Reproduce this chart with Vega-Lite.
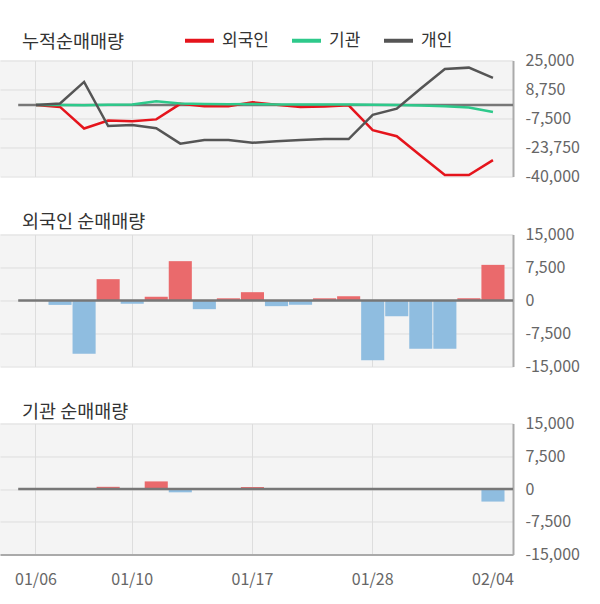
{
  "$schema": "https://vega.github.io/schema/vega-lite/v6.json",
  "background": "white",
  "padding": {"left": 0, "top": 23.5, "right": 0, "bottom": 10},
  "config": {
    "font": "Noto Sans CJK KR",
    "view": {"stroke": null, "fill": "#f4f4f4"},
    "axis": {"labelFont": "Noto Sans CJK KR", "labelFontSize": 16, "labelColor": "#666666", "gridColor": "#dddddd", "gridWidth": 1, "ticks": false, "title": null, "labelOverlap": false, "labelFlush": false},
    "title": {"font": "Noto Sans CJK KR", "fontSize": 18.5, "fontWeight": "normal", "color": "#333333", "anchor": "start", "frame": "group", "dx": 22}
  },
  "datasets": {
    "d": [
      {"date": "01/06", "f": 0, "i": 0, "외국인": 0, "기관": 0, "개인": 0},
      {"date": "01/07", "f": -1000, "i": 0, "외국인": -1000, "기관": 0, "개인": 900},
      {"date": "01/08", "f": -12100, "i": 0, "외국인": -13100, "기관": -100, "개인": 13000},
      {"date": "01/09", "f": 4850, "i": 500, "외국인": -8600, "기관": 200, "개인": -11700},
      {"date": "01/10", "f": -760, "i": 0, "외국인": -9000, "기관": 300, "개인": -11200},
      {"date": "01/13", "f": 850, "i": 1740, "외국인": -8000, "기관": 2100, "개인": -13000},
      {"date": "01/14", "f": 8940, "i": -760, "외국인": 700, "기관": 900, "개인": -21600},
      {"date": "01/15", "f": -1970, "i": 0, "외국인": -600, "기관": 600, "개인": -19600},
      {"date": "01/16", "f": 500, "i": 0, "외국인": -600, "기관": 500, "개인": -19600},
      {"date": "01/17", "f": 1890, "i": 450, "외국인": 1600, "기관": 600, "개인": -21100},
      {"date": "01/20", "f": -1290, "i": 0, "외국인": 200, "기관": 400, "개인": -20200},
      {"date": "01/21", "f": -980, "i": 0, "외국인": -1100, "기관": 300, "개인": -19600},
      {"date": "01/22", "f": 500, "i": 0, "외국인": -800, "기관": 300, "개인": -19000},
      {"date": "01/23", "f": 980, "i": 0, "외국인": -100, "기관": 300, "개인": -19000},
      {"date": "01/28", "f": -13560, "i": 0, "외국인": -14000, "기관": 200, "개인": -5400},
      {"date": "01/29", "f": -3560, "i": 0, "외국인": -17400, "기관": 100, "개인": -2000},
      {"date": "01/30", "f": -10990, "i": 0, "외국인": -28400, "기관": -200, "개인": 9300},
      {"date": "01/31", "f": -10990, "i": 0, "외국인": -39200, "기관": -600, "개인": 20200},
      {"date": "02/03", "f": 500, "i": 0, "외국인": -39200, "기관": -1300, "개인": 21000},
      {"date": "02/04", "f": 8100, "i": -2880, "외국인": -30800, "기관": -3900, "개인": 15300}
    ]
  },
  "spacing": 28,
  "resolve": {"scale": {"x": "independent", "y": "independent", "color": "independent"}},
  "vconcat": [
    {
      "width": 513, "height": 116,
      "title": {"text": "누적순매매량", "offset": -27},
      "layer": [
        {
          "data": {"values": [{}]},
          "mark": {"type": "rule", "color": "#777777", "strokeWidth": 2.5},
          "encoding": {
            "x": {"datum": "01/06", "type": "ordinal", "bandPosition": -0.27,
                  "scale": {"type": "band", "domain": ["01/06","01/07","01/08","01/09","01/10","01/13","01/14","01/15","01/16","01/17","01/20","01/21","01/22","01/23","01/28","01/29","01/30","01/31","02/03","02/04"], "paddingInner": 0.04, "paddingOuter": 0.685, "align": 0.742, "round": false},
                  "axis": {"labels": false, "domain": false, "grid": true, "values": ["01/06","01/10","01/17","01/28","02/04"], "gridOpacity": {"condition": {"test": "datum.value === '02/04'", "value": 0}, "value": 1}}},
            "x2": {"value": "width"},
            "y": {"datum": 0, "type": "quantitative",
                  "scale": {"domain": [-40000, 25000], "nice": false, "zero": false},
                  "axis": {"orient": "right", "values": [-40000, -23750, -7500, 8750, 25000], "labelOverlap": false, "labelExpr": "datum.value < 0 ? '-' + format(-datum.value, ',') : format(datum.value, ',')", "domain": true, "domainColor": "#aaaaaa", "domainWidth": 2, "labelPadding": 12, "grid": true}}
          }
        },
        {
          "data": {"name": "d"},
          "transform": [{"fold": ["외국인", "기관", "개인"], "as": ["s", "v"]}],
          "mark": {"type": "line", "strokeWidth": 2.5},
          "encoding": {
            "x": {"field": "date", "type": "ordinal", "bandPosition": 0.5},
            "y": {"field": "v", "type": "quantitative",
                  "axis": {"orient": "right", "values": [-40000, -23750, -7500, 8750, 25000], "labelOverlap": false, "labelExpr": "datum.value < 0 ? '-' + format(-datum.value, ',') : format(datum.value, ',')", "domain": true, "domainColor": "#aaaaaa", "domainWidth": 2, "labelPadding": 12, "grid": true}},
            "color": {"field": "s", "type": "nominal",
                      "scale": {"domain": ["외국인", "기관", "개인"], "range": ["#e5141c", "#2ec98b", "#555555"]},
                      "legend": {"orient": "none", "legendX": 183, "legendY": -36.5, "direction": "horizontal", "title": null, "symbolType": "stroke", "symbolStrokeWidth": 4, "symbolSize": 841, "labelFontSize": 17, "labelColor": "#333333", "labelFont": "Noto Sans CJK KR", "labelOffset": 6, "columnPadding": 15, "padding": 0}}
          }
        }
      ]
    },
    {
      "width": 513, "height": 132,
      "title": {"text": "외국인 순매매량", "offset": -5},
      "layer": [
        {
          "data": {"name": "d"},
          "mark": {"type": "bar"},
          "encoding": {
            "x": {"field": "date", "type": "ordinal",
                  "scale": {"type": "band", "domain": ["01/06","01/07","01/08","01/09","01/10","01/13","01/14","01/15","01/16","01/17","01/20","01/21","01/22","01/23","01/28","01/29","01/30","01/31","02/03","02/04"], "paddingInner": 0.04, "paddingOuter": 0.685, "align": 0.742, "round": false},
                  "axis": {"labels": false, "domain": false, "grid": true, "values": ["01/06","01/10","01/17","01/28","02/04"], "gridOpacity": {"condition": {"test": "datum.value === '02/04'", "value": 0}, "value": 1}}},
            "y": {"field": "f", "type": "quantitative",
                  "scale": {"domain": [-15000, 15000], "nice": false, "zero": false},
                  "axis": {"orient": "right", "values": [-15000, -7500, 0, 7500, 15000], "labelOverlap": false, "labelExpr": "datum.value < 0 ? '-' + format(-datum.value, ',') : format(datum.value, ',')", "domain": true, "domainColor": "#aaaaaa", "domainWidth": 2, "labelPadding": 12, "grid": true}},
            "color": {"condition": {"test": "datum.f > 0", "value": "#ea6a6c"}, "value": "#8fbde0"}
          }
        },
        {
          "data": {"values": [{}]},
          "mark": {"type": "rule", "color": "#777777", "strokeWidth": 2.5},
          "encoding": {
            "x": {"datum": "01/06", "type": "ordinal", "bandPosition": -0.27},
            "x2": {"value": "width"},
            "y": {"datum": 0, "type": "quantitative",
                  "axis": {"orient": "right", "values": [-15000, -7500, 0, 7500, 15000], "labelOverlap": false, "labelExpr": "datum.value < 0 ? '-' + format(-datum.value, ',') : format(datum.value, ',')", "domain": true, "domainColor": "#aaaaaa", "domainWidth": 2, "labelPadding": 12, "grid": true}}
          }
        }
      ]
    },
    {
      "width": 513, "height": 131,
      "title": {"text": "기관 순매매량", "offset": -6},
      "layer": [
        {
          "data": {"name": "d"},
          "mark": {"type": "bar"},
          "encoding": {
            "x": {"field": "date", "type": "ordinal",
                  "scale": {"type": "band", "domain": ["01/06","01/07","01/08","01/09","01/10","01/13","01/14","01/15","01/16","01/17","01/20","01/21","01/22","01/23","01/28","01/29","01/30","01/31","02/03","02/04"], "paddingInner": 0.04, "paddingOuter": 0.685, "align": 0.742, "round": false},
                  "axis": {"labels": true, "labelAngle": 0, "labelPadding": 17, "domain": true, "domainColor": "#aaaaaa", "domainWidth": 2, "grid": true, "values": ["01/06","01/10","01/17","01/28","02/04"], "gridOpacity": {"condition": {"test": "datum.value === '02/04'", "value": 0}, "value": 1}}},
            "y": {"field": "i", "type": "quantitative",
                  "scale": {"domain": [-15000, 15000], "nice": false, "zero": false},
                  "axis": {"orient": "right", "values": [-15000, -7500, 0, 7500, 15000], "labelOverlap": false, "labelExpr": "datum.value < 0 ? '-' + format(-datum.value, ',') : format(datum.value, ',')", "domain": true, "domainColor": "#aaaaaa", "domainWidth": 2, "labelPadding": 12, "grid": true}},
            "color": {"condition": {"test": "datum.i > 0", "value": "#ea6a6c"}, "value": "#8fbde0"}
          }
        },
        {
          "data": {"values": [{}]},
          "mark": {"type": "rule", "color": "#777777", "strokeWidth": 2.5},
          "encoding": {
            "x": {"datum": "01/06", "type": "ordinal", "bandPosition": -0.27},
            "x2": {"value": "width"},
            "y": {"datum": 0, "type": "quantitative",
                  "axis": {"orient": "right", "values": [-15000, -7500, 0, 7500, 15000], "labelOverlap": false, "labelExpr": "datum.value < 0 ? '-' + format(-datum.value, ',') : format(datum.value, ',')", "domain": true, "domainColor": "#aaaaaa", "domainWidth": 2, "labelPadding": 12, "grid": true}}
          }
        }
      ]
    }
  ]
}
